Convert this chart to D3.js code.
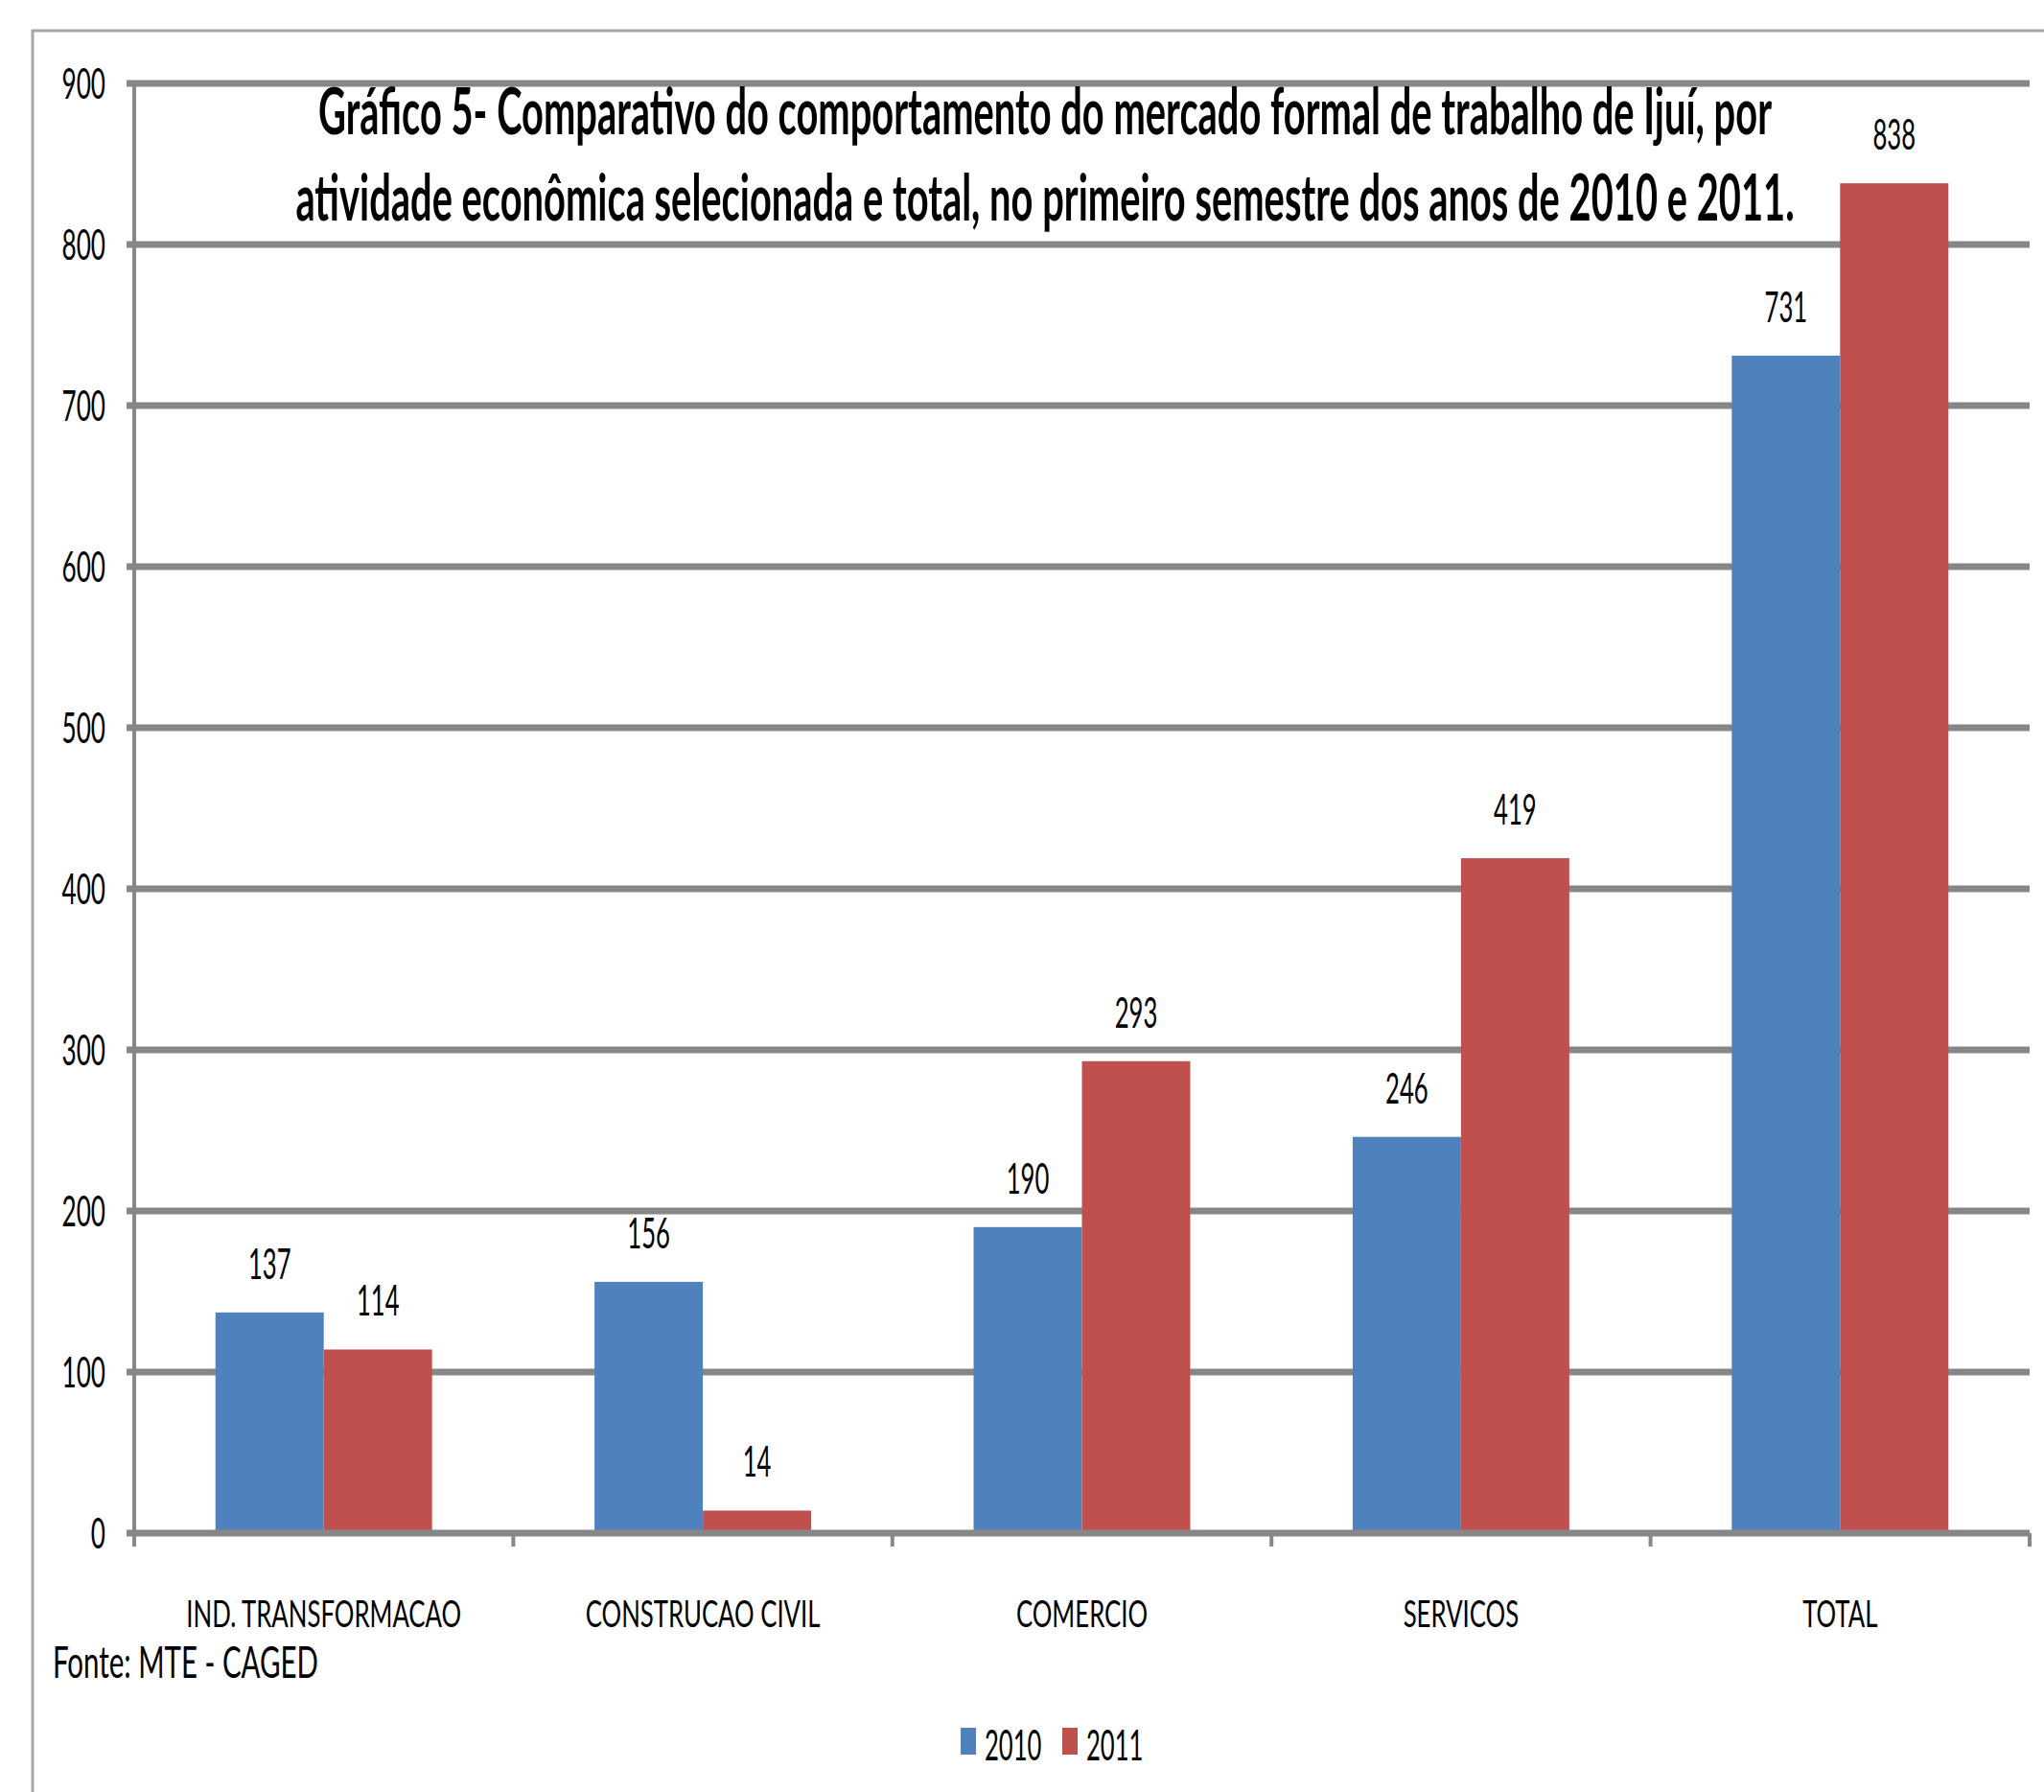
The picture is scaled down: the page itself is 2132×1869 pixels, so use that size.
<!DOCTYPE html>
<html>
<head>
<meta charset="utf-8">
<script src="https://cdn.jsdelivr.net/npm/d3@7"></script>
<style>
  body { margin: 0; background: #fff; }
  text { font-family: Lato, "Open Sans", sans-serif; fill: #000; }
</style>
</head>
<body>
<div id="chart"></div>
<script>
// data
var categories = ["IND. TRANSFORMACAO", "CONSTRUCAO CIVIL", "COMERCIO", "SERVICOS", "TOTAL"];
var series = ["2010", "2011"];
var values2010 = [137, 156, 190, 246, 731];
var values2011 = [114, 14, 293, 419, 838];
var yTicks = [0, 100, 200, 300, 400, 500, 600, 700, 800, 900];
var titleLines = [
  "Gráfico 5- Comparativo do comportamento do mercado formal de trabalho de Ijuí, por",
  "atividade econômica selecionada e total, no primeiro semestre dos anos de 2010 e 2011."
];
var source = "Fonte: MTE - CAGED";

var colors = ["#4f81bd", "#c0504d"];
var gridColor = "#878787";

var width = 2132, height = 1869;
var plotL = 140, plotR = 2117, plotT = 87, plotB = 1599;

var svg = d3.select("#chart").append("svg")
  .attr("width", width)
  .attr("height", height);

svg.append("rect").attr("width", width).attr("height", height).attr("fill", "#fff");

// outer frame (only top and left visible)
svg.append("path")
  .attr("d", "M34," + height + "V32H" + width)
  .attr("fill", "none")
  .attr("stroke", "#a6a6a6")
  .attr("stroke-width", 3);

var y = d3.scaleLinear().domain([0, 900]).range([plotB, plotT]);
var x0 = d3.scaleBand().domain(categories).range([plotL, plotR]).paddingInner(0).paddingOuter(0);
var x1 = d3.scaleBand().domain(series).range([0, x0.bandwidth()]).paddingInner(0).paddingOuter(0.75);

// squeezed text helper
function txt(g, str, x, yy, size, sx, anchor, weight) {
  return g.append("text")
    .attr("transform", "translate(" + x + "," + yy + ") scale(" + sx + ",1)")
    .attr("text-anchor", anchor || "middle")
    .attr("font-size", size)
    .attr("font-weight", weight || "normal")
    .text(str);
}

//gridlines
svg.append("g").selectAll("line")
  .data(yTicks.filter(d => d > 0))
  .enter().append("line")
  .attr("x1", plotL - 8).attr("x2", plotR)
  .attr("y1", d => y(d)).attr("y2", d => y(d))
  .attr("stroke", gridColor)
  .attr("stroke-width", 7);

// y tick labels
var yl = svg.append("g");
yTicks.forEach(function (d) {
  txt(yl, d, 110, y(d) + 16, 45, 0.58, "end");
});

// bars
var data = categories.map((c, i) => ({ cat: c, vals: [values2010[i], values2011[i]] }));
var grp = svg.append("g").selectAll("g")
  .data(data)
  .enter().append("g")
  .attr("transform", d => "translate(" + x0(d.cat) + ",0)");

grp.selectAll("rect")
  .data(d => d.vals.map((v, j) => ({ s: series[j], v: v, j: j })))
  .enter().append("rect")
  .attr("x", d => x1(d.s))
  .attr("width", x1.bandwidth())
  .attr("y", d => y(d.v))
  .attr("height", d => y(0) - y(d.v))
  .attr("fill", d => colors[d.j]);

// value labels
var vl = svg.append("g");
data.forEach(function (d) {
  d.vals.forEach(function (v, j) {
    txt(vl, v, x0(d.cat) + x1(series[j]) + x1.bandwidth() / 2, y(v) - 35, 45, 0.57);
  });
});

// axes
svg.append("line")
  .attr("x1", plotL).attr("x2", plotL)
  .attr("y1", plotT - 3).attr("y2", plotB + 14)
  .attr("stroke", gridColor).attr("stroke-width", 4);
svg.append("line")
  .attr("x1", plotL - 8).attr("x2", plotR)
  .attr("y1", plotB).attr("y2", plotB)
  .attr("stroke", gridColor).attr("stroke-width", 7);
svg.append("g").selectAll("line")
  .data(categories.concat(["end"]))
  .enter().append("line")
  .attr("x1", (d, i) => plotL + i * x0.step())
  .attr("x2", (d, i) => plotL + i * x0.step())
  .attr("y1", plotB).attr("y2", plotB + 14)
  .attr("stroke", gridColor).attr("stroke-width", 4);

// category labels
var cl = svg.append("g");
categories.forEach(function (c) {
  txt(cl, c, x0(c) + x0.bandwidth() / 2, 1697, 39, 0.66);
});

// title
var tl = svg.append("g");
titleLines.forEach(function (t, i) {
  txt(tl, t, 1090, 140 + i * 90, 67, 0.595, "middle", "bold");
});

// source
txt(svg, source, 55, 1750, 46, 0.64, "start");

// legend
var lg = svg.append("g");
series.forEach(function (s, i) {
  var lx = 1002 + i * 106;
  lg.append("rect")
    .attr("x", lx).attr("y", 1802)
    .attr("width", 16).attr("height", 28)
    .attr("fill", colors[i]);
  txt(lg, s, lx + 25, 1836, 45, 0.57, "start");
});
</script>
</body>
</html>
